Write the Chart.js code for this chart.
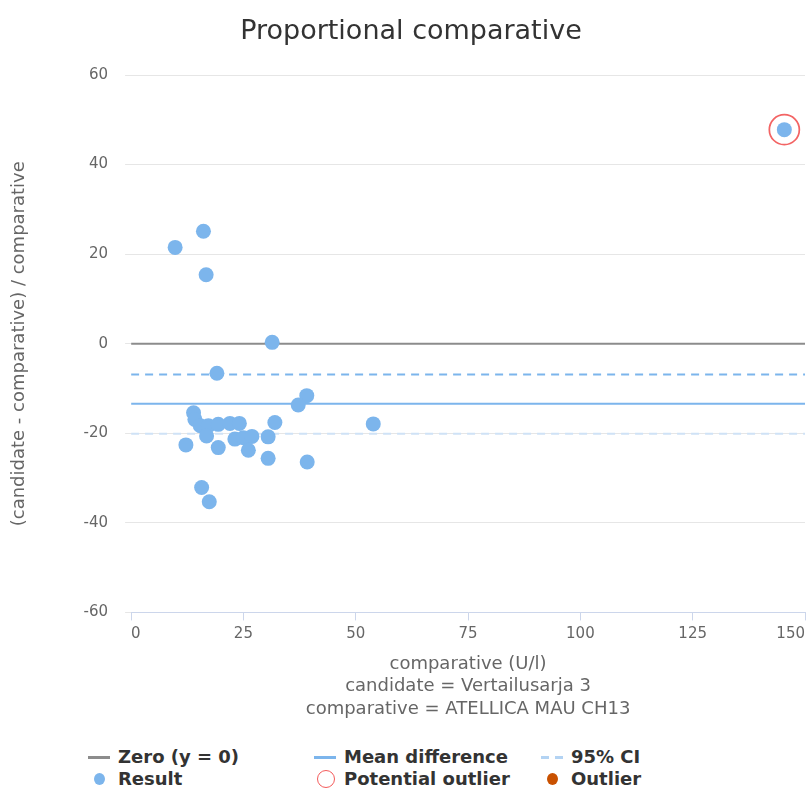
<!DOCTYPE html>
<html>
<head>
<meta charset="utf-8">
<script src="https://cdn.jsdelivr.net/npm/chart.js@4/dist/chart.umd.min.js"></script>
<style>
  html, body { margin: 0; padding: 0; background: #fff; }
  #wrap { position: relative; width: 807px; height: 789px; }
  #chartBox { position: absolute; left: 0; top: 0; width: 807px; height: 735px; }
  #title { position: absolute; left: 0; top: 14px; width: 822px; text-align: center;
           font-family: "DejaVu Sans", sans-serif; font-size: 27px; line-height: 32px; color: #333; }
  .lg { position: absolute; font-family: "DejaVu Sans", sans-serif; font-weight: bold;
        font-size: 18px; color: #333; line-height: 22px; white-space: nowrap; }
  .sym { position: absolute; }
</style>
</head>
<body>
<div id="wrap">
  <div id="chartBox"><canvas id="c" width="807" height="735"></canvas></div>
  <div id="title"></div>
  <div id="legend"></div>
</div>
<script>
// Measured results: comparative value (U/l) and proportional difference (%)
const resultX = [9.8, 16.1, 16.7, 31.4, 19.1, 39.1, 37.2, 13.9, 14.2, 15.4, 17.2, 16.8, 19.4, 22.0, 24.1,
                 32.0, 53.9, 12.2, 19.4, 23.1, 25.0, 26.9, 26.1, 30.5, 30.5, 39.2, 15.7, 17.4, 145.4];
const resultY = [21.5, 25.1, 15.4, 0.3, -6.6, -11.6, -13.7, -15.4, -16.9, -18.3, -18.3, -20.6, -18.0, -17.8, -17.8,
                 -17.6, -17.9, -22.6, -23.2, -21.3, -21.0, -20.7, -23.8, -20.8, -25.6, -26.4, -32.1, -35.3, 47.8];

// Flagged points
const potentialOutlierX = [145.4];
const potentialOutlierY = [47.8];
const outlierX = [];
const outlierY = [];

// Reference levels
const zeroLevel = 0;
const meanDifference = -13.4;
const ciUpper = -6.9;
const ciLower = -20.1;

const xRange = [0, 150];
const yTicks = [-60, -40, -20, 0, 20, 40, 60];
const xTicks = [0, 25, 50, 75, 100, 125, 150];

const titleText = 'Proportional comparative';
const xTitle = ['comparative (U/l)', 'candidate = Vertailusarja 3', 'comparative = ATELLICA MAU CH13'];
const yTitle = '(candidate - comparative) / comparative';

const legendItems = [
  { label: 'Zero (y = 0)', kind: 'line', color: '#8c8c8c' },
  { label: 'Mean difference', kind: 'line', color: '#7cb5ec' },
  { label: '95% CI', kind: 'dash', color: '#b3d3f3' },
  { label: 'Result', kind: 'dot', color: '#7cb5ec' },
  { label: 'Potential outlier', kind: 'ring', color: '#f45b5b' },
  { label: 'Outlier', kind: 'dot', color: '#c95100' }
];

const pts = (xs, ys) => xs.map((x, i) => ({ x: x, y: ys[i] }));
const hline = (y) => [{ x: xRange[0], y: y }, { x: xRange[1], y: y }];

const FONT = '"DejaVu Sans", sans-serif';

document.getElementById('title').textContent = titleText;

new Chart(document.getElementById('c'), {
  type: 'scatter',
  data: {
    datasets: [
      { label: 'Result', data: pts(resultX, resultY), backgroundColor: '#7cb5ec',
        borderWidth: 0, pointRadius: 7.5, pointHoverRadius: 7.5 },
      { label: 'Outlier', data: pts(outlierX, outlierY), backgroundColor: '#c95100',
        borderWidth: 0, pointRadius: 7.5 },
      { label: 'Potential outlier', data: pts(potentialOutlierX, potentialOutlierY),
        backgroundColor: 'rgba(0,0,0,0)', borderColor: '#f36464', borderWidth: 1.75,
        pointRadius: 15, pointHoverRadius: 15 },
      { type: 'line', label: 'Zero (y = 0)', data: hline(zeroLevel), borderColor: '#8c8c8c',
        borderWidth: 2, pointRadius: 0 },
      { type: 'line', label: 'Mean difference', data: hline(meanDifference), borderColor: '#7cb5ec',
        borderWidth: 2, pointRadius: 0 },
      { type: 'line', label: '95% CI upper', data: hline(ciUpper), borderColor: '#7cb5ec',
        borderWidth: 2, borderDash: [8, 6], pointRadius: 0 },
      { type: 'line', label: '95% CI lower', data: hline(ciLower), borderColor: '#cfe2f6',
        borderWidth: 2, borderDash: [8, 6], pointRadius: 0 }
    ]
  },
  options: {
    responsive: false,
    animation: false,
    layout: { autoPadding: false, padding: { left: 1, right: 2, top: 75, bottom: 14 } },
    plugins: {
      legend: { display: false },
      tooltip: { enabled: false },
      title: { display: false }
    },
    scales: {
      x: {
        type: 'linear', min: xRange[0], max: xRange[1],
        afterBuildTicks: (s) => { s.ticks = xTicks.map(v => ({ value: v })); },
        // labels are aligned inside the axis, so no extra side padding is needed
        afterFit: (s) => { s.paddingLeft = 0; s.paddingRight = 0; },
        ticks: { color: '#666', font: { family: FONT, size: 15 }, padding: 5, align: 'inner' },
        grid: { drawOnChartArea: false, drawTicks: true, tickLength: 8, color: '#ccd6eb' },
        border: { display: true, color: '#ccd6eb', width: 1 },
        title: { display: true, text: xTitle, color: '#666',
                 font: { family: FONT, size: 18, lineHeight: 1.27 }, padding: { top: 4, bottom: 0 } }
      },
      y: {
        type: 'linear', min: yTicks[0], max: yTicks[yTicks.length - 1],
        afterBuildTicks: (s) => { s.ticks = yTicks.map(v => ({ value: v })); },
        ticks: { color: '#666', font: { family: FONT, size: 15 }, padding: 17 },
        grid: { color: '#e6e6e6', drawTicks: true, tickLength: 6, lineWidth: 1 },
        border: { display: false },
        title: { display: true, text: yTitle, color: '#666',
                 font: { family: FONT, size: 18, lineHeight: 1.2 }, padding: { top: 8, bottom: 36 } }
      }
    }
  }
});

// Legend beneath the chart: three columns, two rows
const legendEl = document.getElementById('legend');
const colX = [88, 314, 541];
const rowY = [746, 768];
legendItems.forEach((it, i) => {
  const col = i % 3, row = Math.floor(i / 3);
  const x0 = colX[col], y0 = rowY[row];
  const sym = document.createElement('div');
  sym.className = 'sym';
  if (it.kind === 'line') {
    sym.style.left = x0 + 'px'; sym.style.top = (y0 + 10) + 'px';
    sym.style.width = '22px'; sym.style.height = '3px';
    sym.style.background = it.color;
  } else if (it.kind === 'dash') {
    sym.style.left = x0 + 'px'; sym.style.top = (y0 + 10) + 'px';
    sym.style.width = '22px'; sym.style.height = '3px';
    sym.style.background = 'linear-gradient(to right, ' + it.color + ' 0 8px, transparent 8px 14px, ' +
                           it.color + ' 14px 22px)';
  } else if (it.kind === 'dot') {
    sym.style.left = (x0 + 6) + 'px'; sym.style.top = (y0 + 5) + 'px';
    sym.style.width = '11px'; sym.style.height = '12px';
    sym.style.borderRadius = '50%'; sym.style.background = it.color;
  } else {
    sym.style.left = (x0 + 3) + 'px'; sym.style.top = (y0 + 2) + 'px';
    sym.style.width = '18px'; sym.style.height = '18px';
    sym.style.borderRadius = '50%'; sym.style.border = '1.5px solid ' + it.color;
    sym.style.boxSizing = 'border-box';
  }
  legendEl.appendChild(sym);
  const t = document.createElement('div');
  t.className = 'lg';
  t.style.left = (x0 + 30) + 'px'; t.style.top = y0 + 'px';
  t.textContent = it.label;
  legendEl.appendChild(t);
});
</script>
</body>
</html>
